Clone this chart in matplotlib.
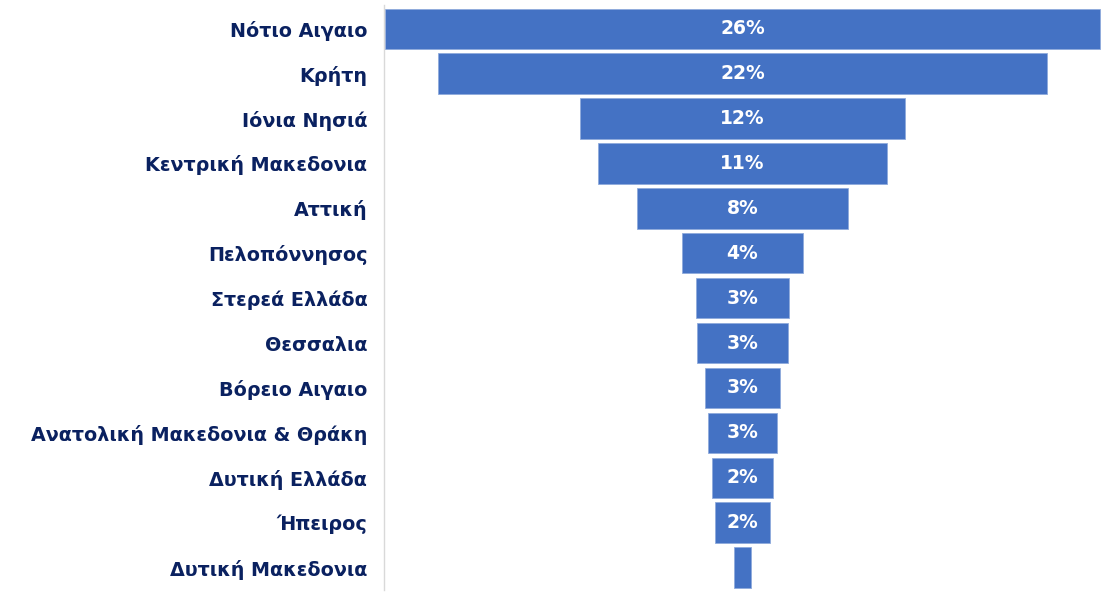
import matplotlib
matplotlib.use("Agg")
import matplotlib.pyplot as plt

regions = ["Νότιο Αιγαιο", "Κρήτη", "Ιόνια Νησιά", "Κεντρική Μακεδονια", "Αττική",
           "Πελοπόννησος", "Στερεά Ελλάδα", "Θεσσαλια", "Βόρειο Αιγαιο",
           "Ανατολική Μακεδονια & Θράκη", "Δυτική Ελλάδα", "Ήπειρος", "Δυτική Μακεδονια"]
shares = [26.0, 22.2, 11.8, 10.5, 7.7, 4.4, 3.4, 3.3, 2.7, 2.5, 2.2, 2.0, 0.6]
value_labels = ["26%", "22%", "12%", "11%", "8%", "4%", "3%", "3%", "3%", "3%", "2%", "2%", ""]

fig = plt.figure(figsize=(11.08, 6.0), dpi=100)
ax = fig.add_axes([384/1108, 10/600, (1101-384)/1108, 585/600])

y = list(range(len(regions)))
lefts = [-s/2 for s in shares]
ax.barh(y, shares, left=lefts, height=0.9, color="#4472C4", edgecolor="#8FAADC", linewidth=0.6)

for yi, lab in zip(y, value_labels):
    if lab:
        ax.text(0, yi, lab, ha="center", va="center", color="white",
                fontsize=13.5, fontweight="bold", family="DejaVu Sans")

ax.set_xlim(-13.05, 13.05)
ax.set_ylim(12.5, -0.53)
ax.set_yticks(y)
ax.set_yticklabels(regions, fontsize=13.8, fontweight="bold", color="#0A2160", family="DejaVu Sans")
ax.tick_params(axis="y", length=0, pad=12)
ax.set_xticks([])
for s in ["top", "right", "bottom"]:
    ax.spines[s].set_visible(False)
ax.spines["left"].set_color("#D9D9D9")
ax.spines["left"].set_linewidth(1)

fig.savefig("out.png", dpi=100, facecolor="white")
